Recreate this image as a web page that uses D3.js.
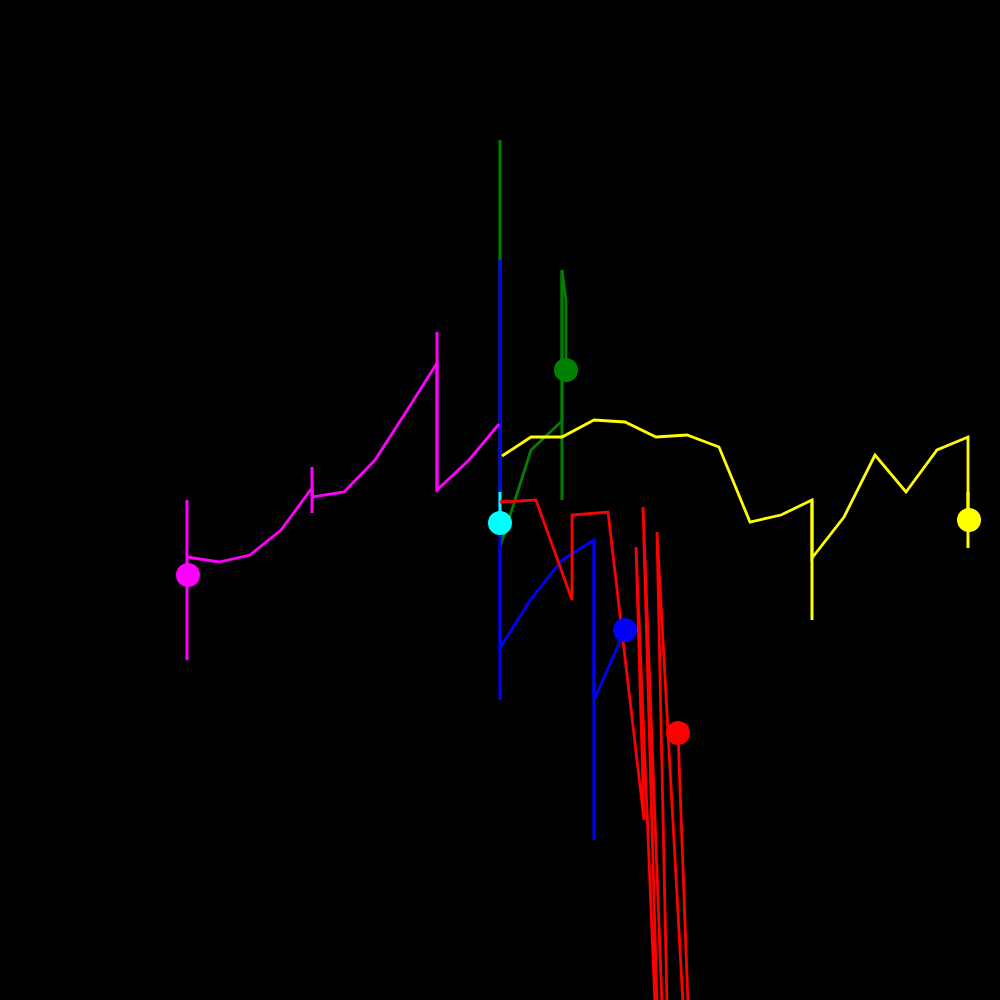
<!DOCTYPE html>
<html>
<head>
<meta charset="utf-8">
<script src="https://d3js.org/d3.v7.min.js"></script>
<style>
html,body{margin:0;padding:0;background:#000;}
svg{display:block;}
</style>
</head>
<body>
<script>
// ---- data (x, y in chart units; ranges are [x, high, low]) ----
const seriesNames = ["green", "blue", "cyan", "red", "yellow", "magenta"];
const seriesColors = ["#008000", "#0000ff", "#00ffff", "#ff0000", "#ffff00", "#ff00ff"];

const greenPath = [[50.0,45.3],[53.1,55.0],[56.2,57.9],[56.2,73.0],[56.6,70.0],[56.6,63.0]];
const greenRanges = [[50.0,86.0,50.0],[56.2,73.0,50.0]];
const greenMarker = [56.6,63.0];

const bluePath = [[50.0,45.3],[50.0,35.2],[53.1,40.1],[56.2,44.0],[59.4,46.0],[59.4,30.0],[62.5,37.0]];
const blueRanges = [[50.0,74.0,30.0],[59.4,46.0,16.0]];
const blueMarker = [62.5,37.0];

const cyanPath = [];
const cyanRanges = [[50.0,50.8,47.7]];
const cyanMarker = [50.0,47.7];

const redPath = [[50.0,49.8],[53.6,50.0],[57.2,40.0],[57.2,48.5],[60.8,48.8],[64.4,18.0],[63.6,45.3],[66.1,-14.8],[64.3,49.3],[67.3,-29.1],[65.7,46.8],[69.8,-27.6],[67.8,26.7]];
const redRanges = [];
const redMarker = [67.8,26.7];

const yellowPath = [[50.2,54.4],[53.1,56.3],[56.2,56.3],[59.4,58.0],[62.5,57.8],[65.6,56.3],[68.7,56.5],[71.9,55.3],[75.0,47.8],[78.1,48.5],[81.2,50.0],[81.2,44.2],[84.4,48.3],[87.5,54.5],[90.6,50.8],[93.7,55.0],[96.8,56.3],[96.8,48.0]];
const yellowRanges = [[81.2,50.0,38.0],[96.8,50.8,45.2]];
const yellowMarker = [96.9,48.0];

const magentaPath = [[18.7,44.3],[21.9,43.8],[25.0,44.5],[28.1,47.0],[31.2,51.2],[31.3,50.3],[34.4,50.8],[37.5,54.0],[40.6,58.8],[43.7,63.7],[43.7,51.0],[46.9,54.0],[49.9,57.6]];
const magentaRanges = [[18.7,50.0,34.0],[31.2,53.3,48.7],[43.7,66.8,51.0]];
const magentaMarker = [18.8,42.5];

const paths = [greenPath, bluePath, cyanPath, redPath, yellowPath, magentaPath];
const ranges = [greenRanges, blueRanges, cyanRanges, redRanges, yellowRanges, magentaRanges];
const markers = [greenMarker, blueMarker, cyanMarker, redMarker, yellowMarker, magentaMarker];

// ---- drawing ----
const W = 1000, H = 1000;
const svg = d3.select("body").append("svg").attr("width", W).attr("height", H)
  .style("background", "#000");
svg.append("rect").attr("width", W).attr("height", H).attr("fill", "#000");

const x = d3.scaleLinear().domain([0, 100]).range([0, W]);
const y = d3.scaleLinear().domain([0, 100]).range([H, 0]);
const line = d3.line().x(d => x(d[0])).y(d => y(d[1]));

const series = seriesNames.map((n, i) => ({
  name: n, color: seriesColors[i], path: paths[i], ranges: ranges[i], marker: markers[i]
}));

const g = svg.selectAll("g.series").data(series).join("g").attr("class", "series");

g.selectAll("line.range").data(d => d.ranges.map(r => ({r, color: d.color})))
  .join("line").attr("class", "range")
  .attr("x1", d => x(d.r[0])).attr("x2", d => x(d.r[0]))
  .attr("y1", d => y(d.r[1])).attr("y2", d => y(d.r[2]))
  .attr("stroke", d => d.color).attr("stroke-width", 3);

g.filter(d => d.path.length > 1).append("path")
  .attr("d", d => line(d.path))
  .attr("fill", "none").attr("stroke", d => d.color)
  .attr("stroke-width", 2.8).attr("stroke-linejoin", "miter");

svg.selectAll("circle.marker").data(series).join("circle").attr("class", "marker")
  .attr("cx", d => x(d.marker[0])).attr("cy", d => y(d.marker[1]))
  .attr("r", 12).attr("fill", d => d.color);
</script>
</body>
</html>
